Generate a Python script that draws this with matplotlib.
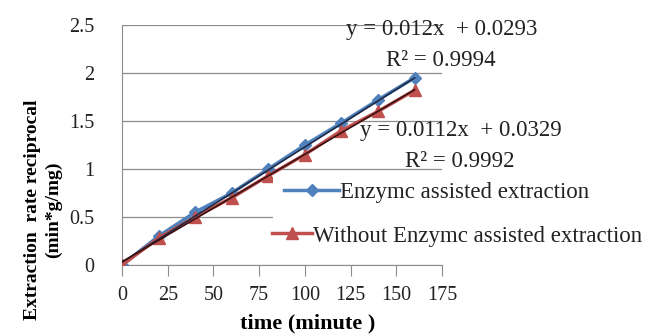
import matplotlib
matplotlib.use("Agg")
import matplotlib.pyplot as plt
from matplotlib.patches import Rectangle
from matplotlib.lines import Line2D
import numpy as np

time_min = [0, 20, 40, 60, 80, 100, 120, 140, 160]
enzyme = [0.0, 0.30, 0.55, 0.75, 1.00, 1.25, 1.48, 1.72, 1.95]
without = [0.0, 0.28, 0.50, 0.70, 0.93, 1.15, 1.40, 1.60, 1.82]
fit_enzyme = (0.012, 0.0293)
fit_without = (0.0112, 0.0329)
x_ticks = [0, 25, 50, 75, 100, 125, 150, 175]
y_ticks = [0, 0.5, 1, 1.5, 2, 2.5]
y_tick_labels = ['0', '0.5', '1', '1.5', '2', '2.5']
labels = ['Enzymc assisted extraction', 'Without Enzymc assisted extraction']
eq_texts = ['y = 0.012x  + 0.0293', 'R² = 0.9994', 'y = 0.0112x  + 0.0329', 'R² = 0.9992']

plt.rcParams['font.family'] = ['Liberation Serif', 'DejaVu Serif']

W, H = 652, 336
fig = plt.figure(figsize=(6.52, 3.36), dpi=100)
ax = fig.add_axes([122 / W, 1 - 265 / H, 320 / W, 240 / H])

blue = '#4F81BD'
red = '#C0504D'

ax.plot(time_min, enzyme, color=blue, marker='D', markersize=6, lw=2.5, zorder=3)
ax.plot(time_min, without, color=red, marker='^', markersize=8, lw=2.5, zorder=3)
xs = np.array([time_min[0], time_min[-1]])
ax.plot(xs, fit_enzyme[0] * xs + fit_enzyme[1], color='#1F2A44', lw=1.2, zorder=4)
ax.plot(xs, fit_without[0] * xs + fit_without[1], color='#3A1010', lw=1.2, zorder=4)

ax.set_xlim(0, 175)
ax.set_ylim(0, 2.5)
ax.set_xticks(x_ticks)
ax.set_yticks(y_ticks)
ax.set_yticklabels(y_tick_labels)
ax.grid(axis='y', color='#8C8C8C', lw=0.9)
ax.set_axisbelow(True)
for s in ['right', 'top']:
    ax.spines[s].set_visible(False)
for s in ['left', 'bottom']:
    ax.spines[s].set_color('#8C8C8C')
ax.tick_params(axis='x', direction='out', length=8, color='#8C8C8C',
               labelsize=14.5, pad=7, labelcolor='#222222')
ax.tick_params(axis='y', length=0, labelsize=14.5, pad=20, labelcolor='#222222')

ax.set_xlabel('time (minute )', fontsize=16, fontweight='bold', labelpad=2)
ax.xaxis.set_label_coords((308 - 122) / 320, -(323 - 265) / 240)
ax.xaxis.label.set_va('center')
ax.set_ylabel('Extraction  rate reciprocal\n(min*g/mg)', fontsize=14,
              fontweight='bold', linespacing=1.25)
ax.yaxis.set_label_coords((62 - 122) / 320, (265 - 210) / 240)

txt_kw = dict(fontsize=16.5, ha='center', va='center', color='#222222')
fig.text(442 / W, 1 - 30 / H, eq_texts[0], **txt_kw)
fig.text(441 / W, 1 - 61 / H, eq_texts[1], **txt_kw)
fig.text(461 / W, 1 - 131 / H, eq_texts[2], **txt_kw)
fig.text(460 / W, 1 - 161 / H, eq_texts[3], **txt_kw)

# white legend background covering grid lines
fig.patches.append(Rectangle((273 / W, 1 - 255 / H), (W - 273) / W, 77 / H,
                             transform=fig.transFigure, facecolor='white',
                             edgecolor='none', zorder=2))
h1 = Line2D([], [], color=blue, marker='D', markersize=6, lw=2.5)
h2 = Line2D([], [], color=red, marker='^', markersize=8, lw=2.5)
leg_kw = dict(frameon=False, fontsize=16.5, handletextpad=0.05, borderpad=0,
              borderaxespad=0, bbox_transform=fig.transFigure)
leg1 = fig.legend([h1], [labels[0]], loc='center left',
                  bbox_to_anchor=(284 / W, 1 - 192 / H), handlelength=2.4, **leg_kw)
leg2 = fig.legend([h2], [labels[1]], loc='center left',
                  bbox_to_anchor=(272 / W, 1 - 236 / H), handlelength=1.75, **leg_kw)
for lg in (leg1, leg2):
    lg.set_zorder(5)
    for t in lg.get_texts():
        t.set_color('#222222')

fig.savefig('out.png', dpi=100)
